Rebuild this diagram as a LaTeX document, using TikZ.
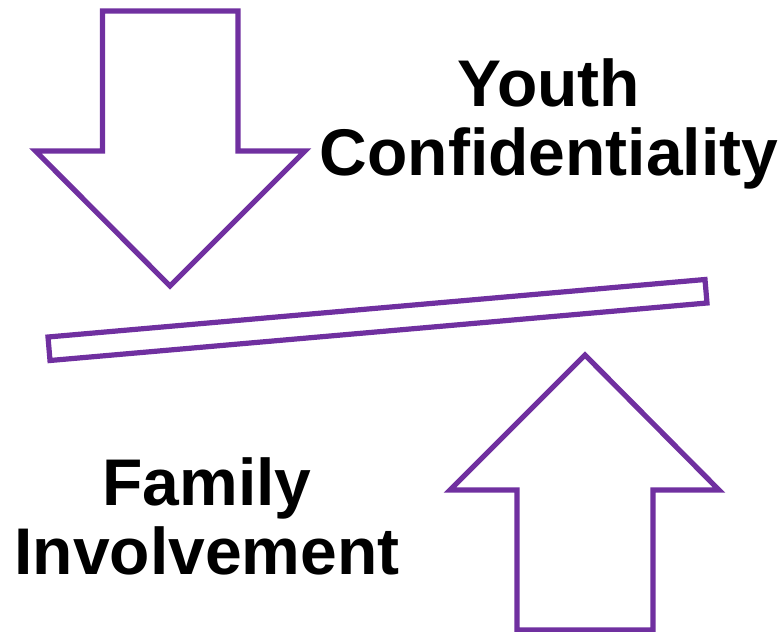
\documentclass[tikz,border=0pt]{standalone}
\usepackage{fontspec}
\setmainfont{Liberation Sans}
\definecolor{vio}{HTML}{7030A0}
\tikzset{shapeline/.style={draw=vio,line width=5.2pt,line join=miter,fill=white},
lab/.style={font=\fontsize{66pt}{69pt}\selectfont\bfseries,align=center,text=black,inner sep=0pt}}
\begin{document}
\begin{tikzpicture}[x=1pt,y=-1pt]
\useasboundingbox (0,0) rectangle (782,632);
\draw[shapeline] (102.5,11) -- (238,11) -- (238,151) -- (305,151) -- (170,286) -- (35.5,151) -- (102.5,151) -- cycle;
\draw[shapeline] (517,630) -- (653,630) -- (653,490) -- (719,490) -- (585,355) -- (450,490) -- (517,490) -- cycle;
\draw[shapeline] (48,337) -- (705,279.5) -- (707,303) -- (50,360.5) -- cycle;
\node[lab] (youth) at (549,123.5) {Youth\\Confidentiality};
\node[lab] (family) at (207,516) {Family\\Involvement};
\end{tikzpicture}
\end{document}
